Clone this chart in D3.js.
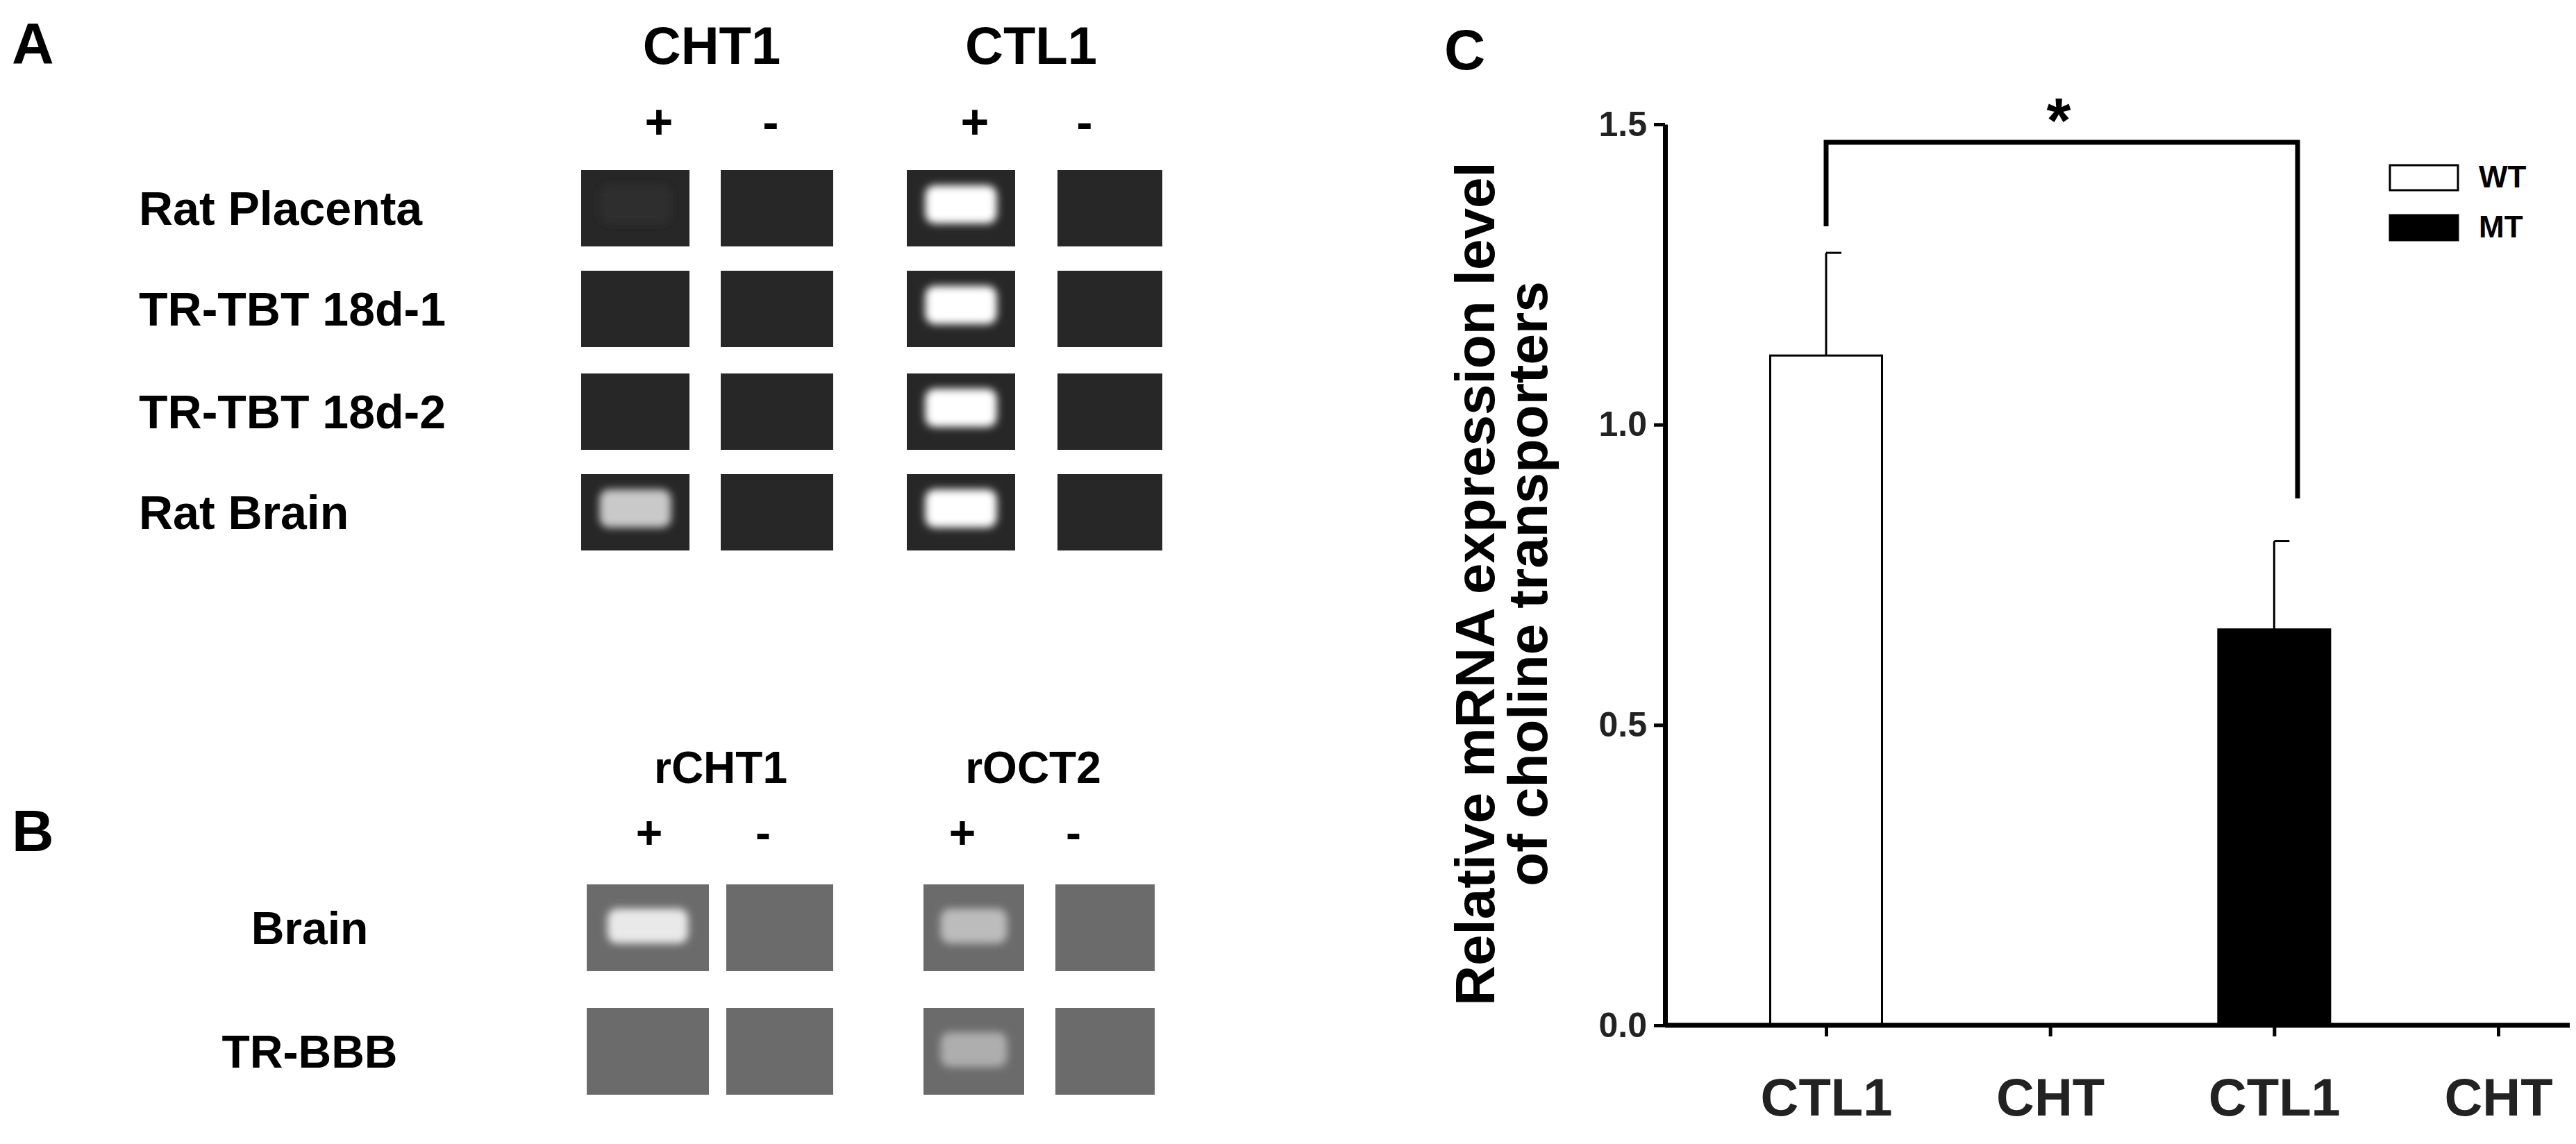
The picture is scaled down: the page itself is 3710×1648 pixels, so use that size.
<!DOCTYPE html>
<html><head><meta charset="utf-8">
<script src="https://cdn.jsdelivr.net/npm/d3@7/dist/d3.min.js"></script>
<style>body{margin:0;background:#fff}text{font-family:Arial,"Liberation Sans",sans-serif;font-weight:bold}</style>
</head><body>
<script>
// ---- data ----
const categories = ["CTL1a","CHTa","CTL1b","CHTb"];
const tickLabels = ["CTL1","CHT","CTL1","CHT"];
const wtValues = [1.115, 0];
const wtErrors = [0.171, 0];
const mtValues = [0.659, 0];
const mtErrors = [0.147, 0];
const yTicks = [0.0, 0.5, 1.0, 1.5];
const seriesNames = ["WT","MT"];
// gel panels: band intensity per lane (0 = none)
const gelARows = ["Rat  Placenta","TR-TBT 18d-1","TR-TBT 18d-2","Rat Brain"];
const gelALanes = ["CHT1+","CHT1-","CTL1+","CTL1-"];
const gelABands = [[0.03,0,1,0],[0,0,1,0],[0,0,1,0],[0.75,0,1,0]];
const gelBRows = ["Brain","TR-BBB"];
const gelBLanes = ["rCHT1+","rCHT1-","rOCT2+","rOCT2-"];
const gelBBands = [[0.85,0,0.55,0],[0,0,0.45,0]];

const W=3710,H=1648;
const svg=d3.select("body").append("svg").attr("width",W).attr("height",H);
const defs=svg.append("defs");
defs.append("filter").attr("id","blur").attr("x","-30%").attr("y","-30%").attr("width","160%").attr("height","160%")
 .append("feGaussianBlur").attr("stdDeviation",6);

// ---- Panel C ----
const y=d3.scaleLinear().domain([0,1.5]).range([1477,179]);
const x=d3.scalePoint().domain(categories).range([2630,3598]);
const g=svg.append("g");
const bw=161;
const cx=c=>x(c);
const bars=[
 {c:categories[0],v:wtValues[0],e:wtErrors[0],fill:"#fff"},
 {c:categories[1],v:wtValues[1],e:wtErrors[1],fill:"#fff"},
 {c:categories[2],v:mtValues[0],e:mtErrors[0],fill:"#000"},
 {c:categories[3],v:mtValues[1],e:mtErrors[1],fill:"#000"}];
bars.filter(b=>b.v>0).forEach(b=>{
  const xc=cx(b.c);
  g.append("line").attr("x1",xc).attr("x2",xc).attr("y1",y(b.v)).attr("y2",y(b.v+b.e)).attr("stroke","#000").attr("stroke-width",3);
  g.append("line").attr("x1",xc).attr("x2",xc+22).attr("y1",y(b.v+b.e)).attr("y2",y(b.v+b.e)).attr("stroke","#000").attr("stroke-width",3);
  g.append("rect").attr("x",xc-bw/2).attr("y",y(b.v)).attr("width",bw).attr("height",y(0)-y(b.v))
   .attr("fill",b.fill).attr("stroke","#000").attr("stroke-width",3);
});
const yAxis=g.append("g").attr("transform","translate(2398,0)").call(d3.axisLeft(y).tickValues(yTicks).tickFormat(d3.format(".1f")).tickSize(16).tickSizeOuter(0));
yAxis.select(".domain").attr("stroke-width",7);
yAxis.selectAll(".tick line").attr("stroke-width",5);
yAxis.selectAll("text").attr("font-size",50).attr("font-weight","bold").attr("fill","#222").attr("x",-26);
const xAxis=g.append("g").attr("transform","translate(0,1477)").call(d3.axisBottom(x).tickSize(16).tickSizeOuter(0).tickFormat((d,i)=>tickLabels[i]));
xAxis.select(".domain").attr("d","M2398,0H3701").attr("stroke-width",7);
xAxis.selectAll(".tick line").attr("stroke-width",5);
xAxis.selectAll("text").attr("font-size",76).attr("font-weight","bold").attr("fill","#222").attr("dy",0).attr("y",130);
// significance bracket
const bL=cx(categories[0]), bR=3309;
g.append("path").attr("d",`M${bL},${y(1.33)}V${y(1.47)}H${bR}V${y(0.877)}`).attr("fill","none").attr("stroke","#000").attr("stroke-width",7);
g.append("text").attr("x",2965).attr("y",205).attr("text-anchor","middle").attr("font-size",90).text("*");
// legend
seriesNames.forEach((s,i)=>{
  g.append("rect").attr("x",3442).attr("y",238+i*72).attr("width",98).attr("height",36).attr("fill",i?"#000":"#fff").attr("stroke","#000").attr("stroke-width",3);
  g.append("text").attr("x",3570).attr("y",270+i*72).attr("font-size",44).text(s);
});
// y label
g.append("text").attr("transform","translate(2152,841) rotate(-90)").attr("text-anchor","middle").attr("font-size",80).text("Relative mRNA expression level");
g.append("text").attr("transform","translate(2228,841) rotate(-90)").attr("text-anchor","middle").attr("font-size",80).text("of choline transporters");
svg.append("text").attr("x",2080).attr("y",100).attr("font-family","Liberation Serif, Times New Roman, serif").attr("font-size",82).text("C");

// ---- gel helper ----
function gel(rows,lanes,bands,laneX,laneW,rowY,rowH,bg,bandTop,bandH,labelX,labelAnchor,fs){
  rows.forEach((r,i)=>{
    svg.append("text").attr("x",labelX).attr("y",rowY[i]+rowH/2+fs*0.36).attr("text-anchor",labelAnchor).attr("font-size",fs).text(r);
    lanes.forEach((l,j)=>{
      svg.append("rect").attr("x",laneX[j]).attr("y",rowY[i]).attr("width",laneW[j]).attr("height",rowH).attr("fill",bg);
      const v=bands[i][j];
      if(v>0){
        const c=d3.interpolateRgb(bg,"#ffffff")(v);
        svg.append("rect").attr("x",laneX[j]+laneW[j]*0.17).attr("y",rowY[i]+bandTop).attr("width",laneW[j]*0.66).attr("height",bandH)
          .attr("rx",14).attr("fill",c).attr("filter","url(#blur)");
      }
    });
  });
}
// Panel A
svg.append("text").attr("x",17).attr("y",92).attr("font-family","Liberation Serif, Times New Roman, serif").attr("font-size",84).text("A");
[["CHT1",1025],["CTL1",1485]].forEach(d=>svg.append("text").attr("x",d[1]).attr("y",92).attr("text-anchor","middle").attr("font-size",76).text(d[0]));
[["+",949],["-",1110],["+",1404],["-",1562]].forEach(d=>svg.append("text").attr("x",d[1]).attr("y",200).attr("text-anchor","middle").attr("font-size",70).text(d[0]));
gel(gelARows,gelALanes,gelABands,[837,1038,1306,1523],[156,162,156,151],[245,390,538,683],110,"#272727",22,55,200,"start",68);
// Panel B
svg.append("text").attr("x",17).attr("y",1226).attr("font-family","Liberation Serif, Times New Roman, serif").attr("font-size",84).text("B");
[["rCHT1",1038],["rOCT2",1488]].forEach(d=>svg.append("text").attr("x",d[1]).attr("y",1128).attr("text-anchor","middle").attr("font-size",64).text(d[0]));
[["+",935],["-",1099],["+",1386],["-",1546]].forEach(d=>svg.append("text").attr("x",d[1]).attr("y",1222).attr("text-anchor","middle").attr("font-size",66).text(d[0]));
gel(gelBRows,gelBLanes,gelBBands,[845,1046,1330,1520],[176,154,145,143],[1274,1452],125,"#6b6b6b",35,50,446,"middle",66);
</script>
</body></html>
